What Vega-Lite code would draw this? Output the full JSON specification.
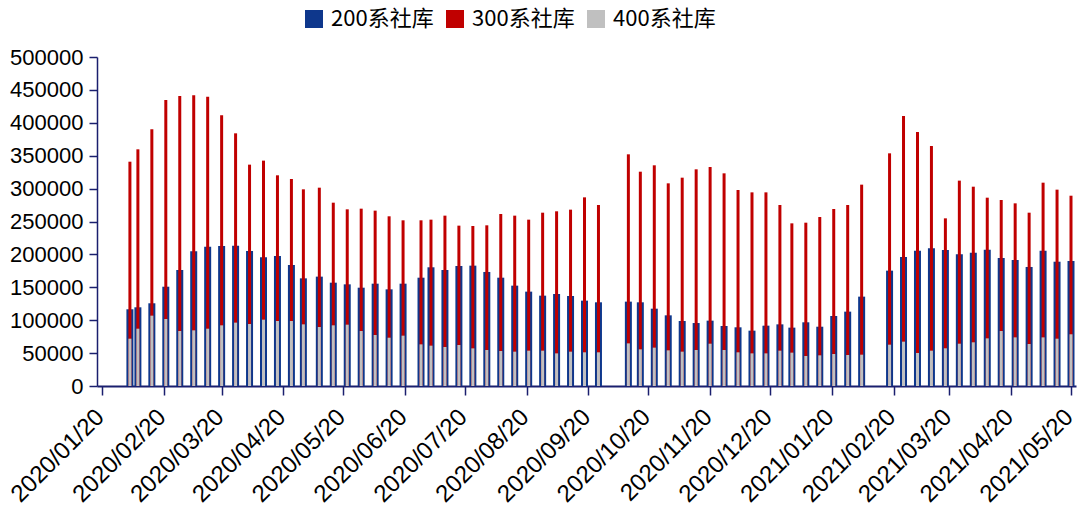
{
  "$schema": "https://vega.github.io/schema/vega-lite/v6.json",
  "width": 979,
  "height": 329,
  "autosize": {"type": "none"},
  "padding": {"left": 97, "top": 57, "right": 8, "bottom": 126},
  "background": "white",
  "config": {"view": {"stroke": null}},
  "data": {"values": [
    {"date": "2020/02/03", "200系社库": 116600, "300系社库": 340900, "400系社库": 71900},
    {"date": "2020/02/07", "200系社库": 119600, "300系社库": 359700, "400系社库": 87100},
    {"date": "2020/02/14", "200系社库": 125700, "300系社库": 390100, "400系社库": 106900},
    {"date": "2020/02/21", "200系社库": 150900, "300系社库": 434700, "400系社库": 101800},
    {"date": "2020/02/28", "200系社库": 176300, "300系社库": 440700, "400系社库": 83600},
    {"date": "2020/03/06", "200系社库": 204700, "300系社库": 441800, "400系社库": 84600},
    {"date": "2020/03/13", "200系社库": 211700, "300系社库": 439700, "400系社库": 87100},
    {"date": "2020/03/20", "200系社库": 212800, "300系社库": 411300, "400系社库": 92200},
    {"date": "2020/03/27", "200系社库": 213300, "300系社库": 384000, "400系社库": 96300},
    {"date": "2020/04/03", "200系社库": 205200, "300系社库": 336400, "400系社库": 94200},
    {"date": "2020/04/10", "200系社库": 195500, "300系社库": 342500, "400系社库": 100800},
    {"date": "2020/04/17", "200系社库": 197600, "300系社库": 320200, "400系社库": 98800},
    {"date": "2020/04/24", "200系社库": 183900, "300系社库": 314600, "400系社库": 98800},
    {"date": "2020/04/30", "200系社库": 163600, "300系社库": 298900, "400系社库": 93700},
    {"date": "2020/05/08", "200系社库": 166200, "300系社库": 301400, "400系社库": 89700},
    {"date": "2020/05/15", "200系社库": 157000, "300系社库": 278600, "400系社库": 92200},
    {"date": "2020/05/22", "200系社库": 154500, "300系社库": 268500, "400系社库": 93200},
    {"date": "2020/05/29", "200系社库": 149400, "300系社库": 269500, "400系社库": 83600},
    {"date": "2020/06/05", "200系社库": 155500, "300系社库": 266500, "400系社库": 77500},
    {"date": "2020/06/12", "200系社库": 146900, "300系社库": 257900, "400系社库": 73400},
    {"date": "2020/06/19", "200系社库": 155500, "300系社库": 251800, "400系社库": 76500},
    {"date": "2020/06/28", "200系社库": 164600, "300系社库": 251800, "400系社库": 63300},
    {"date": "2020/07/03", "200系社库": 180400, "300系社库": 252800, "400系社库": 61300},
    {"date": "2020/07/10", "200系社库": 176300, "300系社库": 258900, "400系社库": 59300},
    {"date": "2020/07/17", "200系社库": 182400, "300系社库": 243700, "400系社库": 62300},
    {"date": "2020/07/24", "200系社库": 182900, "300系社库": 243200, "400系社库": 57200},
    {"date": "2020/07/31", "200系社库": 173300, "300系社库": 244200, "400系社库": 54700},
    {"date": "2020/08/07", "200系社库": 164600, "300系社库": 261400, "400系社库": 53200},
    {"date": "2020/08/14", "200系社库": 152500, "300系社库": 258900, "400系社库": 52200},
    {"date": "2020/08/21", "200系社库": 143400, "300系社库": 252800, "400系社库": 53700},
    {"date": "2020/08/28", "200系社库": 137300, "300系社库": 263400, "400系社库": 53700},
    {"date": "2020/09/04", "200系社库": 139800, "300系社库": 265500, "400系社库": 49600},
    {"date": "2020/09/11", "200系社库": 136800, "300系社库": 268000, "400系社库": 52200},
    {"date": "2020/09/18", "200系社库": 129700, "300系社库": 286700, "400系社库": 51200},
    {"date": "2020/09/25", "200系社库": 127200, "300系社库": 275100, "400系社库": 51200},
    {"date": "2020/10/10", "200系社库": 128200, "300系社库": 352100, "400系社库": 64800},
    {"date": "2020/10/16", "200系社库": 127200, "300系社库": 325700, "400系社库": 55700},
    {"date": "2020/10/23", "200系社库": 117500, "300系社库": 335400, "400系社库": 58300},
    {"date": "2020/10/30", "200系社库": 107400, "300系社库": 308000, "400系社库": 54200},
    {"date": "2020/11/06", "200系社库": 98800, "300系社库": 316600, "400系社库": 52200},
    {"date": "2020/11/13", "200系社库": 95700, "300系社库": 329300, "400系社库": 54700},
    {"date": "2020/11/20", "200系社库": 99300, "300系社库": 332800, "400系社库": 64300},
    {"date": "2020/11/27", "200系社库": 91200, "300系社库": 323200, "400系社库": 54700},
    {"date": "2020/12/04", "200系社库": 89200, "300系社库": 297900, "400系社库": 51200},
    {"date": "2020/12/11", "200系社库": 84100, "300系社库": 294300, "400系社库": 49600},
    {"date": "2020/12/18", "200系社库": 91700, "300系社库": 294300, "400系社库": 49600},
    {"date": "2020/12/25", "200系社库": 93700, "300系社库": 275100, "400系社库": 53700},
    {"date": "2020/12/31", "200系社库": 88700, "300系社库": 247200, "400系社库": 50700},
    {"date": "2021/01/07", "200系社库": 96800, "300系社库": 248200, "400系社库": 45600},
    {"date": "2021/01/14", "200系社库": 90100, "300系社库": 256800, "400系社库": 46600},
    {"date": "2021/01/21", "200系社库": 106400, "300系社库": 269000, "400系社库": 48600},
    {"date": "2021/01/28", "200系社库": 113000, "300系社库": 275100, "400系社库": 47100},
    {"date": "2021/02/04", "200系社库": 135800, "300系社库": 306000, "400系社库": 47600},
    {"date": "2021/02/18", "200系社库": 175300, "300系社库": 353600, "400系社库": 62800},
    {"date": "2021/02/25", "200系社库": 196000, "300系社库": 410300, "400系社库": 67400},
    {"date": "2021/03/04", "200系社库": 205700, "300系社库": 386000, "400系社库": 50200},
    {"date": "2021/03/11", "200系社库": 209200, "300系社库": 364700, "400系社库": 53700},
    {"date": "2021/03/18", "200系社库": 206700, "300系社库": 254800, "400系社库": 57300},
    {"date": "2021/03/25", "200系社库": 200100, "300系社库": 312100, "400系社库": 64300},
    {"date": "2021/04/01", "200系社库": 202600, "300系社库": 302900, "400系社库": 66400},
    {"date": "2021/04/08", "200系社库": 207200, "300系社库": 286200, "400系社库": 72400},
    {"date": "2021/04/15", "200系社库": 194500, "300系社库": 282700, "400系社库": 83600},
    {"date": "2021/04/22", "200系社库": 191500, "300系社库": 277600, "400系社库": 73900},
    {"date": "2021/04/29", "200系社库": 180900, "300系社库": 263400, "400系社库": 63800},
    {"date": "2021/05/06", "200系社库": 205700, "300系社库": 309000, "400系社库": 73900},
    {"date": "2021/05/13", "200系社库": 188900, "300系社库": 298400, "400系社库": 71900},
    {"date": "2021/05/20", "200系社库": 190000, "300系社库": 289200, "400系社库": 78600}
  ]},
  "transform": [{"fold": ["200系社库", "300系社库", "400系社库"], "as": ["series", "value"]}],
  "encoding": {
    "x": {
      "field": "date", "type": "temporal",
      "scale": {"domain": [{"year": 2020, "month": 1, "date": 20}, {"year": 2021, "month": 5, "date": 20}], "nice": false},
      "axis": {
        "title": null, "grid": false,
        "values": [
          {"year": 2020, "month": 1, "date": 20}, {"year": 2020, "month": 2, "date": 20},
          {"year": 2020, "month": 3, "date": 20}, {"year": 2020, "month": 4, "date": 20},
          {"year": 2020, "month": 5, "date": 20}, {"year": 2020, "month": 6, "date": 20},
          {"year": 2020, "month": 7, "date": 20}, {"year": 2020, "month": 8, "date": 20},
          {"year": 2020, "month": 9, "date": 20}, {"year": 2020, "month": 10, "date": 20},
          {"year": 2020, "month": 11, "date": 20}, {"year": 2020, "month": 12, "date": 20},
          {"year": 2021, "month": 1, "date": 20}, {"year": 2021, "month": 2, "date": 20},
          {"year": 2021, "month": 3, "date": 20}, {"year": 2021, "month": 4, "date": 20},
          {"year": 2021, "month": 5, "date": 20}
        ],
        "format": "%Y/%m/%d",
        "labelAngle": -45, "labelAlign": "right", "labelBaseline": "middle",
        "labelFont": "Liberation Sans", "labelFontSize": 24, "labelColor": "#000000",
        "labelPadding": 18, "labelOffset": -2,
        "labelOverlap": false, "labelBound": false, "labelFlush": false,
        "tickSize": 9, "tickColor": "#1a1f6e", "tickWidth": 1.5,
        "domainColor": "#1a1f6e", "domainWidth": 2
      }
    },
    "y": {
      "field": "value", "type": "quantitative", "stack": null,
      "scale": {"domain": [0, 500000], "nice": false},
      "axis": {
        "title": null, "grid": false,
        "values": [0, 50000, 100000, 150000, 200000, 250000, 300000, 350000, 400000, 450000, 500000],
        "format": "d",
        "labelFont": "Liberation Sans", "labelFontSize": 22, "labelColor": "#000000",
        "labelPadding": 6, "tickSize": 8, "tickColor": "#1a1f6e", "tickWidth": 1.5,
        "domainColor": "#1a1f6e", "domainWidth": 1.5
      }
    },
    "color": {
      "field": "series", "type": "nominal",
      "scale": {"domain": ["200系社库", "300系社库", "400系社库"], "range": ["#0E378C", "#C00000", "#C0C0C0"]},
      "legend": {
        "title": null, "orient": "none", "direction": "horizontal",
        "legendX": 206, "legendY": -49,
        "symbolType": "square", "symbolSize": 324, "symbolStrokeWidth": 0,
        "labelFont": "Noto Sans CJK SC", "labelFontSize": 22, "labelColor": "#000000",
        "labelOffset": 6, "columnPadding": 10
      }
    }
  },
  "layer": [
    {"transform": [{"filter": "datum.series === '200系社库'"}], "mark": {"type": "bar", "size": 7}},
    {"transform": [{"filter": "datum.series === '300系社库'"}], "mark": {"type": "bar", "size": 3}},
    {"transform": [{"filter": "datum.series === '400系社库'"}], "mark": {"type": "bar", "size": 3}}
  ]
}
